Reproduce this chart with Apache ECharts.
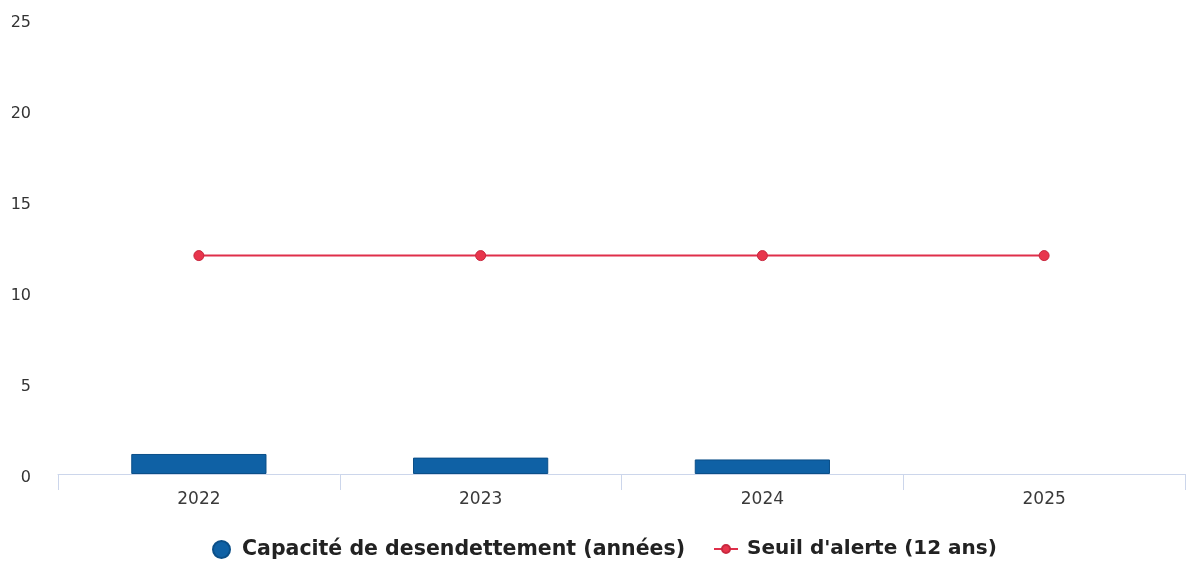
<!DOCTYPE html>
<html>
<head>
<meta charset="utf-8">
<script src="https://cdn.jsdelivr.net/npm/echarts@6/dist/echarts.min.js"></script>
<style>
  html, body { margin: 0; padding: 0; background: #ffffff; }
  #chart { width: 1195px; height: 562px; }
</style>
</head>
<body>
<div id="chart"></div>
<script>
// Années
const years = ['2022', '2023', '2024', '2025'];
// Capacité de désendettement (en années)
const capacite = [1.1, 0.9, 0.8, null];
// Seuil d'alerte fixé à 12 ans
const seuil = [12, 12, 12, 12];
// Graduations de l'axe vertical
const yTicks = [0, 5, 10, 15, 20, 25];

const NAME_CAP = 'Capacité de desendettement (années)';
const NAME_SEUIL = "Seuil d'alerte (12 ans)";

const legendText = { fontSize: 20, fontWeight: 'bold', color: '#222222', fontFamily: 'DejaVu Sans' };

const chart = echarts.init(document.getElementById('chart'), null, { renderer: 'canvas' });

chart.setOption({
  animation: false,
  backgroundColor: '#ffffff',
  textStyle: { fontFamily: 'DejaVu Sans' },
  grid: { left: 58, right: 10, top: 19, bottom: 88, containLabel: false },
  legend: [
    {
      top: 539,
      left: 212,
      padding: 0,
      itemWidth: 17,
      itemHeight: 17,
      itemGap: 0,
      textStyle: Object.assign({}, legendText, { fontSize: 20.5, padding: [0, 0, 0, 7] }),
      data: [{ name: NAME_CAP, icon: 'circle' }]
    },
    {
      top: 539,
      left: 713,
      padding: 0,
      itemWidth: 24,
      itemHeight: 10,
      itemGap: 0,
      textStyle: Object.assign({}, legendText, { padding: [0, 0, 0, 4] }),
      data: [{ name: NAME_SEUIL }]
    }
  ],
  xAxis: {
    type: 'category',
    data: years,
    boundaryGap: true,
    axisLine: { show: true, lineStyle: { color: '#ccd6eb', width: 1 } },
    axisTick: { show: true, length: 16, lineStyle: { color: '#ccd6eb' } },
    axisLabel: { color: '#3a3a3a', fontSize: 17, margin: 17 },
    splitLine: { show: false }
  },
  yAxis: {
    type: 'value',
    min: yTicks[0],
    max: yTicks[yTicks.length - 1],
    interval: 5,
    axisLine: { show: false },
    axisTick: { show: false },
    axisLabel: { color: '#333333', fontSize: 16, margin: 27, verticalAlign: 'top', lineHeight: 8 },
    splitLine: { show: false }
  },
  series: [
    {
      name: NAME_CAP,
      type: 'bar',
      data: capacite,
      barWidth: '48%',
      itemStyle: { color: '#0f61a5', borderColor: '#0b4f88', borderWidth: 1 }
    },
    {
      name: NAME_SEUIL,
      type: 'line',
      data: seuil,
      symbol: 'circle',
      symbolSize: 10,
      lineStyle: { color: '#df2f4a', width: 2 },
      itemStyle: { color: '#e8354c', borderColor: '#c9283f', borderWidth: 1 }
    }
  ]
});
</script>
</body>
</html>
